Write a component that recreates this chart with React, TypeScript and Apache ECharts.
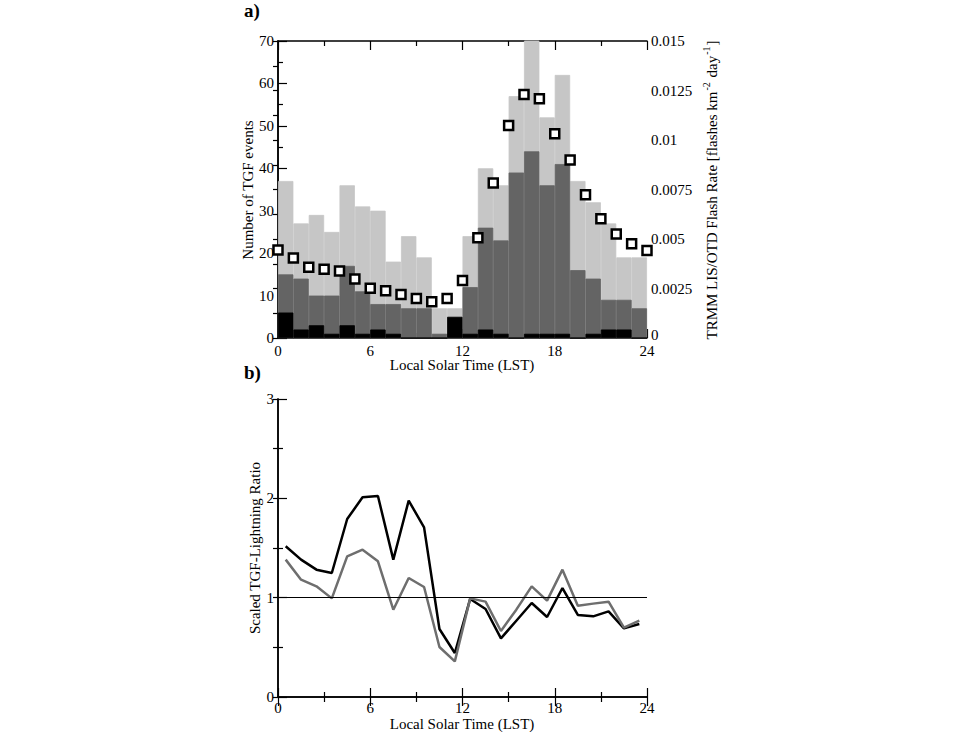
import React, { useEffect, useRef } from "react";
import * as echarts from "echarts";

// ---- Data ----
const binLabels = ["0","1","2","3","4","5","6","7","8","9","10","11","12","13","14","15","16","17","18","19","20","21","22","23"];
const totalCounts = [37, 27, 29, 25, 36, 31, 30, 18, 24, 19, 7, 7, 24, 40, 36, 57, 78, 52, 62, 37, 32, 27, 19, 19];
const darkCounts = [15, 14, 10, 10, 17, 11, 8, 8, 7, 7, 1, 1, 12, 26, 23, 39, 44, 36, 41, 16, 14, 9, 9, 7];
const blackCounts = [6, 2, 3, 1, 3, 1, 2, 1, 0, 0, 0, 5, 1, 2, 1, 0, 1, 1, 1, 0, 1, 2, 2, 0];

const flashHours = [0, 1, 2, 3, 4, 5, 6, 7, 8, 9, 10, 11, 12, 13, 14, 15, 16, 17, 18, 19, 20, 21, 22, 23, 24];
const flashRate = [0.00444, 0.00404, 0.00357, 0.00347, 0.00338, 0.00298, 0.00251, 0.00239, 0.0022, 0.002, 0.00183, 0.002,
  0.0029, 0.00506, 0.00783, 0.01073, 0.0123, 0.01208, 0.01031, 0.00899, 0.00724, 0.00602, 0.00525, 0.00476, 0.00442];

const ratioHours = [0.5, 1.5, 2.5, 3.5, 4.5, 5.5, 6.5, 7.5, 8.5, 9.5, 10.5, 11.5, 12.5, 13.5, 14.5, 15.5, 16.5, 17.5, 18.5, 19.5, 20.5, 21.5, 22.5, 23.5];
const ratioBlack = [1.517, 1.383, 1.282, 1.248, 1.792, 2.01, 2.023, 1.383, 1.977, 1.708, 0.685, 0.443,
  0.987, 0.886, 0.59, 0.768, 0.946, 0.805, 1.097, 0.826, 0.812, 0.862, 0.691, 0.735];
const ratioGrey = [1.383, 1.181, 1.114, 0.993, 1.416, 1.483, 1.366, 0.879, 1.198, 1.107, 0.503, 0.359,
  0.993, 0.96, 0.664, 0.879, 1.114, 0.97, 1.282, 0.919, 0.94, 0.96, 0.698, 0.768];

const rightTickLabels = ["0", "0.0025", "0.005", "0.0075", "0.01", "0.0125", "0.015"];

const FONT = "Liberation Serif";

const tickStyle = { lineStyle: { color: "#000", width: 1.2 } };
const axisLineStyle = { show: true, lineStyle: { color: "#000", width: 1.5 } };
const labelStyle = { fontFamily: FONT, fontSize: 15, color: "#000" };

function hourAxis(gridIndex: number, position: "top" | "bottom", showLabels: boolean) {
  return {
    type: "value",
    gridIndex,
    position,
    min: 0,
    max: 24,
    interval: 6,
    axisLine: axisLineStyle,
    axisTick: { show: true, inside: true, length: 9, ...tickStyle },
    minorTick: { show: true, splitNumber: 2, length: 5, ...tickStyle },
    axisLabel: { show: showLabels, margin: 5, showMinLabel: true, showMaxLabel: true, ...labelStyle },
    splitLine: { show: false },
    minorSplitLine: { show: false },
  };
}

function histBar(data: number[], color: string) {
  return {
    type: "bar",
    xAxisIndex: 0,
    yAxisIndex: 0,
    data,
    barWidth: "100%",
    barGap: "-100%",
    barCategoryGap: "0%",
    itemStyle: { color, borderColor: color, borderWidth: 0.8 },
    clip: true,
    silent: true,
  };
}

export default function App() {
  const ref = useRef<HTMLDivElement>(null);
  useEffect(() => {
    const chart = echarts.init(ref.current!, null, { renderer: "svg" });
    const option: any = {
      animation: false,
      backgroundColor: "#fff",
      grid: [
        { left: 278, top: 41, width: 369, height: 297, containLabel: false },
        { left: 278, top: 399, width: 369, height: 298, containLabel: false },
      ],
      xAxis: [
        {
          type: "category",
          gridIndex: 0,
          data: binLabels,
          boundaryGap: true,
          show: false,
        },
        hourAxis(0, "bottom", true),
        hourAxis(0, "top", false),
        { ...hourAxis(1, "bottom", true), axisLabel: { show: true, margin: 3, showMinLabel: true, showMaxLabel: true, ...labelStyle } },
        hourAxis(1, "top", false),
      ],
      yAxis: [
        {
          type: "value",
          gridIndex: 0,
          position: "left",
          min: 0,
          max: 70,
          interval: 10,
          axisLine: axisLineStyle,
          axisTick: { show: true, inside: true, length: 9, ...tickStyle },
          minorTick: { show: true, splitNumber: 2, length: 5, ...tickStyle },
          axisLabel: { margin: 4, ...labelStyle },
          splitLine: { show: false },
        },
        {
          type: "value",
          gridIndex: 0,
          position: "right",
          min: 0,
          max: 0.015,
          interval: 0.0025,
          axisLine: axisLineStyle,
          axisTick: { show: true, inside: true, length: 5, ...tickStyle },
          minorTick: { show: true, splitNumber: 2, length: 5, ...tickStyle },
          axisLabel: {
            margin: 4,
            ...labelStyle,
            formatter: (v: number) => {
              const t = rightTickLabels[Math.round(v / 0.0025)] ?? "";
              return v === 0 ? "{z|" + t + "}" : t;
            },
            rich: { z: { fontFamily: FONT, fontSize: 15, color: "#000", padding: [0, 0, 6, 0] } },
          },
          splitLine: { show: false },
        },
        {
          type: "value",
          gridIndex: 1,
          position: "left",
          min: 0,
          max: 3,
          interval: 1,
          axisLine: axisLineStyle,
          axisTick: { show: true, inside: true, length: 9, ...tickStyle },
          minorTick: { show: true, splitNumber: 2, length: 5, ...tickStyle },
          axisLabel: { margin: 4, ...labelStyle },
          splitLine: { show: false },
        },
        {
          type: "value",
          gridIndex: 1,
          position: "right",
          min: 0,
          max: 3,
          interval: 0.5,
          axisLine: axisLineStyle,
          axisTick: { show: true, inside: true, length: 5, ...tickStyle },
          axisLabel: { show: false },
          splitLine: { show: false },
        },
      ],
      series: [
        histBar(totalCounts, "#c6c6c6"),
        histBar(darkCounts, "#646464"),
        histBar(blackCounts, "#000000"),
        {
          type: "scatter",
          xAxisIndex: 1,
          yAxisIndex: 1,
          data: flashHours.map((h, i) => [h, flashRate[i]]),
          symbol: "rect",
          symbolSize: 9,
          clip: false,
          itemStyle: { color: "#fff", borderColor: "#000", borderWidth: 2.5, opacity: 1 },
          z: 5,
        },
        {
          type: "line",
          xAxisIndex: 3,
          yAxisIndex: 2,
          data: ratioHours.map((h, i) => [h, ratioBlack[i]]),
          symbol: "none",
          lineStyle: { color: "#000", width: 2.5 },
          markLine: {
            silent: true,
            symbol: ["none", "none"],
            label: { show: false },
            lineStyle: { color: "#000", width: 1, type: "solid" },
            data: [{ yAxis: 1 }],
          },
        },
        {
          type: "line",
          xAxisIndex: 3,
          yAxisIndex: 2,
          data: ratioHours.map((h, i) => [h, ratioGrey[i]]),
          symbol: "none",
          lineStyle: { color: "#6e6e6e", width: 2.5 },
        },
      ],
      graphic: [
        {
          type: "text",
          x: 244,
          y: 10,
          style: { text: "a)", fontFamily: FONT, fontSize: 19, fontWeight: "bold", fill: "#000", textVerticalAlign: "middle" },
        },
        {
          type: "text",
          x: 244,
          y: 372,
          style: { text: "b)", fontFamily: FONT, fontSize: 19, fontWeight: "bold", fill: "#000", textVerticalAlign: "middle" },
        },
        {
          type: "text",
          x: 248,
          y: 190,
          rotation: Math.PI / 2,
          style: { text: "Number of TGF events", fontFamily: FONT, fontSize: 15, fill: "#000", textAlign: "center", textVerticalAlign: "middle" },
        },
        {
          type: "text",
          x: 712,
          y: 190,
          rotation: Math.PI / 2,
          style: {
            text: "TRMM LIS/OTD Flash Rate [flashes km{sup|-2} day{sup|-1}]",
            fontFamily: FONT,
            fontSize: 15,
            fill: "#000",
            textAlign: "center",
            textVerticalAlign: "middle",
            rich: {
              sup: { fontFamily: FONT, fontSize: 10, fill: "#000", verticalAlign: "top", lineHeight: 22, padding: [0, 1, 0, 1] },
            },
          },
        },
        {
          type: "text",
          x: 462,
          y: 365,
          style: { text: "Local Solar Time (LST)", fontFamily: FONT, fontSize: 15, fill: "#000", textAlign: "center", textVerticalAlign: "middle" },
        },
        {
          type: "text",
          x: 255,
          y: 548,
          rotation: Math.PI / 2,
          style: { text: "Scaled TGF-Lightning Ratio", fontFamily: FONT, fontSize: 15, fill: "#000", textAlign: "center", textVerticalAlign: "middle" },
        },
        {
          type: "text",
          x: 462,
          y: 724,
          style: { text: "Local Solar Time (LST)", fontFamily: FONT, fontSize: 15, fill: "#000", textAlign: "center", textVerticalAlign: "middle" },
        },
      ],
    };
    chart.setOption(option);
    return () => chart.dispose();
  }, []);
  return (
    <div
      ref={ref}
      style={{ position: "absolute", left: 0, top: 0, width: 960, height: 732, background: "#fff" }}
    />
  );
}
